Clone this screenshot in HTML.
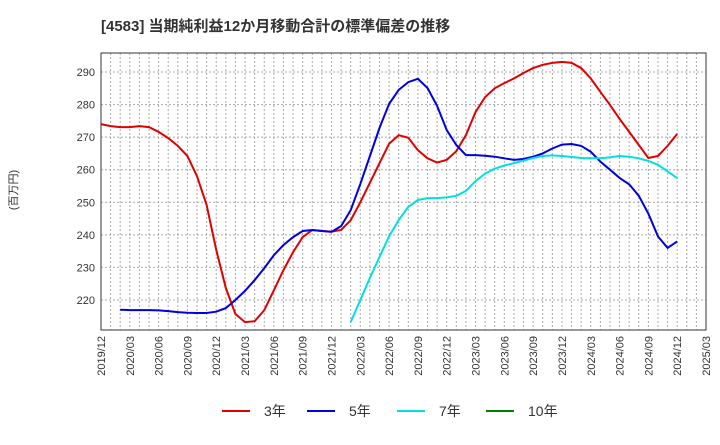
<!DOCTYPE html>
<html><head><meta charset="utf-8"><style>
body{margin:0;background:#fff;font-family:"Liberation Sans","Noto Sans CJK JP",sans-serif;}
</style></head><body>
<svg width="720" height="440" xmlns="http://www.w3.org/2000/svg" font-family="Liberation Sans, Noto Sans CJK JP, sans-serif">
<text x="101" y="31" font-size="15" font-weight="bold" fill="#333">[4583]  当期純利益12か月移動合計の標準偏差の推移</text>
<text transform="translate(17,190) rotate(-90)" text-anchor="middle" font-size="11" fill="#333">(百万円)</text>
<g id="grid"></g>
<g id="axes"></g>
<g id="series"></g>
<rect x="101" y="53" width="605" height="277" fill="none" stroke="#333" stroke-width="1"/>
<g id="legend"></g>
</svg>
<script>
const xLabels=["2019/12","2020/03","2020/06","2020/09","2020/12","2021/03","2021/06","2021/09","2021/12","2022/03","2022/06","2022/09","2022/12","2023/03","2023/06","2023/09","2023/12","2024/03","2024/06","2024/09","2024/12","2025/03"];
const yTicks=[220,230,240,250,260,270,280,290];
const s3=[274,273.4,273.1,273.1,273.4,273.1,271.6,269.7,267.3,264.2,258,249.2,235.4,223.7,215.7,213.2,213.5,216.9,223,229.2,234.7,239.3,241.5,241.2,241,241.5,244.5,250,256,262,268,270.6,269.8,266,263.5,262.2,263,265.7,270.6,277.7,282.3,285,286.6,288,289.7,291.2,292.2,292.8,293.1,292.8,291.2,288,283.9,279.9,275.6,271.6,267.6,263.6,264.2,267.3,271];
const s5=[null,null,217,216.9,216.9,216.9,216.8,216.6,216.3,216.1,216,216,216.4,217.5,220,222.8,226.1,229.8,233.8,236.9,239.3,241.2,241.5,241.2,240.9,242.7,247.6,255.6,264.2,272.8,280.2,284.5,286.9,287.9,285.1,279.6,272.2,267.6,264.5,264.5,264.3,264,263.5,263,263.3,264,265,266.5,267.7,267.9,267.3,265.5,262.5,260,257.5,255.5,252,246.5,239.5,236,238];
const s7=[];for(let i=0;i<26;i++)s7.push(null);
s7.push(213.2,220,226.8,233.2,239.6,244.5,248.6,250.7,251.3,251.3,251.5,252,253.5,256.5,258.8,260.3,261.3,262,262.8,263.6,264.2,264.4,264.2,263.9,263.6,263.5,263.5,263.8,264.2,264,263.5,262.7,261.5,259.5,257.4);
const s10=[];
const NS="http://www.w3.org/2000/svg";
const X0=101,X1=706,Y0=53,Y1=330;
function xs(i){return X0+i*(X1-X0)/63;}
function ys(v){return 300-(v-220)*3.257;}
function mk(t,a,p){const e=document.createElementNS(NS,t);for(const k in a)e.setAttribute(k,a[k]);p.appendChild(e);return e;}
const grid=document.getElementById('grid'),axes=document.getElementById('axes'),ser=document.getElementById('series'),leg=document.getElementById('legend');
for(let i=1;i<63;i++){const l=mk('line',{x1:xs(i),x2:xs(i),y1:Y0,y2:Y1,stroke:'#aaa','stroke-dasharray':'2,2','stroke-width':1},grid);

}
yTicks.forEach(v=>{const l=mk('line',{x1:X0,x2:X1,y1:ys(v),y2:ys(v),stroke:'#aaa','stroke-dasharray':'2,2','stroke-width':1},grid);


const t=mk('text',{x:X0-6,y:ys(v)+4,'text-anchor':'end','font-size':11,fill:'#333'},axes);t.textContent=v;

});
xLabels.forEach((s,k)=>{const x=xs(k*3);const t=mk('text',{transform:`translate(${x+4},${Y1+6}) rotate(-90)`,'text-anchor':'end','font-size':11,fill:'#333'},axes);t.textContent=s;

});
function line(arr,col,name){let d='';arr.forEach((v,i)=>{if(v==null)return;d+=(d?'L':'M')+xs(i).toFixed(1)+','+ys(v).toFixed(1);});
if(!d)return;const p=mk('path',{d:d,fill:'none',stroke:col,'stroke-width':2},ser);

}
line(s3,'#e00000','series-3y');line(s5,'#0000e0','series-5y');line(s7,'#00e0e0','series-7y');line(s10,'#008000','series-10y');
[['3年','#e00000',222],['5年','#0000e0',307],['7年','#00e0e0',397],['10年','#008000',486]].forEach(e=>{
const g=mk('g',{},leg);


mk('line',{x1:e[2],x2:e[2]+28,y1:411,y2:411,stroke:e[1],'stroke-width':2},g);
const t=mk('text',{x:e[2]+42,y:416,'font-size':14,fill:'#333'},g);t.textContent=e[0];});
</script>
</body></html>
